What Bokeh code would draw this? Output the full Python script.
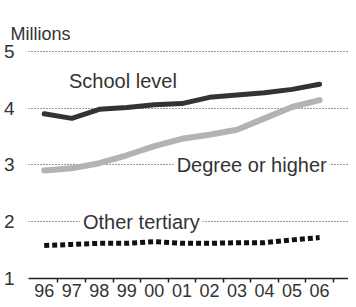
from bokeh.plotting import figure
from bokeh.models import Range1d, FixedTicker, Label
from bokeh.embed import file_html
from bokeh.resources import INLINE

# Data (millions), year midpoints
years = [1996.5, 1997.5, 1998.5, 1999.5, 2000.5, 2001.5, 2002.5, 2003.5, 2004.5, 2005.5, 2006.5]
school_level = [3.90, 3.82, 3.98, 4.01, 4.06, 4.08, 4.19, 4.23, 4.27, 4.33, 4.42]
degree_or_higher = [2.90, 2.94, 3.03, 3.17, 3.33, 3.46, 3.53, 3.62, 3.82, 4.02, 4.14]
other_tertiary = [1.58, 1.60, 1.62, 1.62, 1.65, 1.62, 1.62, 1.63, 1.63, 1.68, 1.72]
tick_labels = ["96", "97", "98", "99", "00", "01", "02", "03", "04", "05", "06"]
year_bounds = [1997, 1998, 1999, 2000, 2001, 2002, 2003, 2004, 2005, 2006, 2007]
y_ticks = [1, 2, 3, 4, 5]

FONT = "Liberation Sans"
TXT = "#333333"

p = figure(width=348, height=299, output_backend="svg", toolbar_location=None,
           x_range=Range1d(1995.93, 2007.55), y_range=Range1d(1, 5.05),
           min_border_left=24, min_border_right=0, min_border_top=48, min_border_bottom=10)
p.outline_line_color = None
p.background_fill_color = "white"

p.title.text = "Millions"
p.title.align = "left"
p.title.vertical_align = "bottom"
p.title.offset = -18
p.title.text_font = FONT
p.title.text_font_size = "18px"
p.title.text_font_style = "normal"
p.title.text_color = TXT

# y axis
ya = p.yaxis[0]
ya.ticker = FixedTicker(ticks=y_ticks)
ya.axis_line_color = None
ya.major_tick_line_color = None
ya.minor_tick_line_color = None
ya.major_label_standoff = 8
ya.axis_label_standoff = 0
ya.major_label_text_font = FONT
ya.major_label_text_font_size = "19px"
ya.major_label_text_color = TXT

# x axis: labels at year centres, tick marks at year boundaries
xa = p.xaxis[0]
xa.ticker = FixedTicker(ticks=years, minor_ticks=year_bounds)
xa.major_label_overrides = {y: t for y, t in zip(years, tick_labels)}
xa.major_tick_line_color = None
xa.major_tick_out = 0
xa.major_tick_in = 0
xa.minor_tick_out = 4
xa.minor_tick_in = 0
xa.minor_tick_line_color = "#222222"
xa.minor_tick_line_width = 1.5
xa.axis_line_color = "#222222"
xa.axis_line_width = 1.5
xa.major_label_standoff = 1
xa.axis_label_standoff = 0
xa.major_label_text_font = FONT
xa.major_label_text_font_size = "18px"
xa.major_label_text_color = TXT

p.xgrid.visible = False
p.ygrid.ticker = FixedTicker(ticks=y_ticks)
p.ygrid.grid_line_color = "#333333"
p.ygrid.grid_line_dash = "1 2"
p.ygrid.grid_line_width = 1

p.line(years, degree_or_higher, line_color="#b3b3b3", line_width=6, line_cap="round")
p.line(years, school_level, line_color="#333333", line_width=5, line_cap="round")
p.line(years, other_tertiary, line_color="#111111", line_width=5, line_dash="5 3")

labels = [("School level", 1997.4, 4.47, False),
          ("Degree or higher", 2001.2, 3.0, True),
          ("Other tertiary", 1997.8, 2.0, True)]
for txt, lx, ly, bg in labels:
    lab = Label(x=lx, y=ly, text=txt, text_font=FONT, text_font_size="20px",
                text_color=TXT, text_baseline="middle", text_align="left")
    if bg:
        lab.background_fill_color = "white"
        lab.padding = 3
    p.add_layout(lab)

open("out.html", "w").write(file_html(p, INLINE))
